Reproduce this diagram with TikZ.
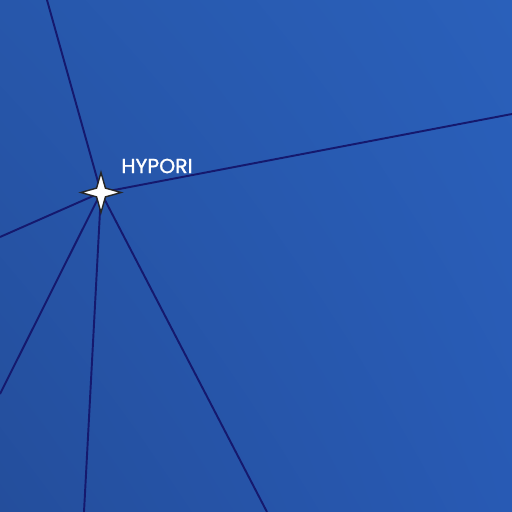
\documentclass[tikz,border=0pt]{standalone}
\usepackage{fontspec}
\newfontfamily\namefont[FakeBold=1.2]{Poppins}
\usetikzlibrary{shapes.geometric, shadings}
\definecolor{skytr}{HTML}{2A60BA}
\definecolor{skytl}{HTML}{2757AB}
\definecolor{skybl}{HTML}{244E9C}
\definecolor{skybr}{HTML}{285AB4}
\definecolor{lane}{HTML}{15196E}

\begin{document}
\begin{tikzpicture}[
        route/.style={draw=lane, line width=1.1pt},
        sysstar/.style={draw=black!85, fill=white, line width=0.8pt, star, star points=4,
            star point ratio=3.2, minimum size=0.8cm, inner sep=0pt},
        syslabel/.style={text=white, font=\namefont\fontsize{11.6}{13}\selectfont}
        ]
    % Background
    \shade[lower left=skybl, upper right=skytr, upper left=skytl, lower right=skybr]
        (0,0) rectangle (10.24,10.24);
    \useasboundingbox (0,0) rectangle (10.24,10.24);

    % Define system and lane ends
    \coordinate (c) at (2.02, 6.39);
    \coordinate (e1) at (0.94, 10.24);
    \coordinate (e2) at (10.24, 7.96);
    \coordinate (e3) at (0, 5.5);
    \coordinate (e4) at (0, 2.36);
    \coordinate (e5) at (1.68, 0);
    \coordinate (e6) at (5.34, 0);

    % Draw hyperspace lanes
    \foreach \e in {e1,e2,e3,e4,e5,e6}
        \draw[route] (c) -- (\e);

    % Draw system marker and name
    \node[sysstar] (hypori) at (c) {};
    \node[syslabel] (hyporiname) at (3.14, 6.92) {HYPORI};

\end{tikzpicture}
\end{document}
